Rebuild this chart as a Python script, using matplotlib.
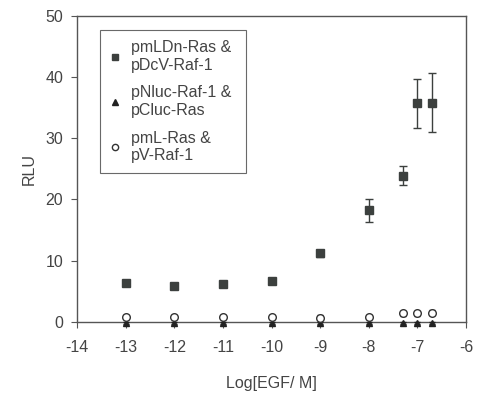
import numpy as np
import matplotlib.pyplot as plt
from matplotlib.lines import Line2D

plt.rcParams['font.family'] = ['Liberation Sans', 'DejaVu Sans']
plt.rcParams['axes.unicode_minus'] = False

# Log[EGF / M]
log_egf = [-13, -12, -11, -10, -9, -8, -7.3, -7, -6.7]

# pmLDn-Ras & pDcV-Raf-1
rlu_split = [6.4, 5.8, 6.2, 6.7, 11.2, 18.2, 23.9, 35.7, 35.8]
err_split = [0.3, 0.3, 0.3, 0.3, 0.6, 1.8, 1.6, 4.0, 4.8]

# pNluc-Raf-1 & pCluc-Ras
rlu_nluc = [-0.2, -0.2, -0.2, -0.2, -0.2, -0.2, -0.2, -0.2, -0.2]
err_nluc = [0.2, 0.2, 0.2, 0.2, 0.2, 0.2, 0.2, 0.2, 0.2]

# pmL-Ras & pV-Raf-1
rlu_full = [0.8, 0.8, 0.8, 0.8, 0.7, 0.8, 1.4, 1.4, 1.5]
err_full = [0.4, 0.4, 0.4, 0.4, 0.4, 0.4, 0.4, 0.4, 0.4]

labels = ['pmLDn-Ras &\npDcV-Raf-1', 'pNluc-Raf-1 &\npCluc-Ras', 'pmL-Ras &\npV-Raf-1']

text_col = '#444444'
sq_col = '#3c403e'
fig = plt.figure(figsize=(4.82, 3.95), dpi=100)
ax = fig.add_axes([0.16, 0.185, 0.807, 0.775])

ax.errorbar(log_egf, rlu_nluc, yerr=err_nluc, fmt='^', color='#222222',
            markersize=5, capsize=2, elinewidth=0.8, zorder=3, clip_on=False)
ax.errorbar(log_egf, rlu_full, yerr=err_full, fmt='o', color='#333333', mfc='white',
            markersize=5.5, capsize=2, elinewidth=0.8, zorder=4, clip_on=False)
ax.errorbar(log_egf, rlu_split, yerr=err_split, fmt='s', color=sq_col,
            markersize=6, capsize=3, elinewidth=1.0, zorder=5)

ax.set_xlim(-14, -6)
ax.set_ylim(0, 50)
ax.set_xticks(range(-14, -5))
ax.set_yticks(range(0, 51, 10))
ax.tick_params(direction='out', length=4, width=0.8, colors='#555555',
               labelcolor=text_col, labelsize=11.5)
ax.tick_params(axis='x', pad=9)
ax.tick_params(axis='y', pad=6)
for s in ax.spines.values():
    s.set_color('#555555')
    s.set_linewidth(1.0)

ax.set_xlabel('Log[EGF/ M]', fontsize=11.5, color=text_col, labelpad=15)
ax.set_ylabel('RLU', fontsize=11.5, color=text_col, labelpad=6)

handles = [
    Line2D([], [], ls='none', marker='s', ms=4.5, color=sq_col),
    Line2D([], [], ls='none', marker='^', ms=4.5, color='#222222'),
    Line2D([], [], ls='none', marker='o', ms=4.5, color='#333333', mfc='white'),
]
leg = ax.legend(handles, labels, loc='upper left',
                bbox_to_anchor=(0.059, 0.0, 0.375, 0.954), mode='expand',
                fontsize=11.5, frameon=True, fancybox=False, edgecolor='#444444',
                handlelength=0.6, handletextpad=0.7, labelspacing=0.8,
                borderpad=0.65, borderaxespad=0, labelcolor=text_col)
leg.get_frame().set_linewidth(0.8)

fig.savefig('out.png', dpi=100)
